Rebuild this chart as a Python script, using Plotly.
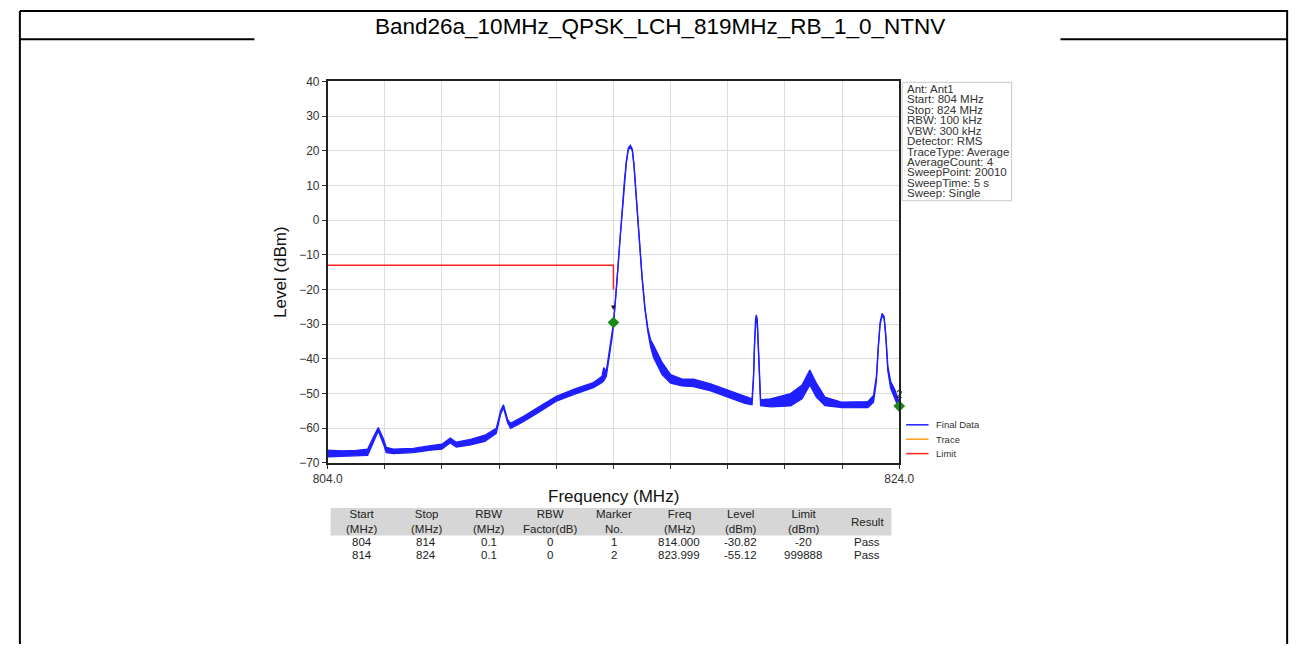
import numpy as np
import plotly.graph_objects as go

# ---------------- data ----------------
title_text = "Band26a_10MHz_QPSK_LCH_819MHz_RB_1_0_NTNV"

freq_mhz = [804.0, 804.5, 805.0, 805.4, 805.6, 805.77, 805.95, 806.05, 806.3, 807.0,
            807.6, 808.0, 808.29, 808.5, 809.0, 809.5, 809.9, 810.05, 810.15, 810.3,
            810.4, 810.8, 811.35, 812.0, 812.7, 813.3, 813.6, 813.66, 813.75, 813.85, 813.95, 814.0,
            814.08, 814.15, 814.22, 814.3, 814.38, 814.45, 814.52, 814.59, 814.66, 814.72,
            814.78, 814.85, 814.92, 815.0, 815.1, 815.2, 815.3, 815.4, 815.7, 816.0,
            816.4, 816.8, 817.4, 818.1, 818.6, 818.85, 818.9, 818.94, 818.97, 819.0,
            819.03, 819.06, 819.1, 819.15, 819.5, 820.2, 820.6, 820.87, 821.1, 821.4,
            822.0, 822.9, 823.1, 823.2, 823.27, 823.33, 823.4, 823.47, 823.53, 823.6,
            823.7, 823.85, 824.0]
level_upper = [-66.3, -66.5, -66.4, -66.0, -62.5, -59.8, -63.0, -65.5, -66.0, -65.8,
               -65.0, -64.6, -62.8, -64.0, -63.2, -62.0, -60.0, -55.0, -53.2, -57.5,
               -58.6, -56.8, -54.0, -50.8, -48.5, -46.8, -45.0, -42.5, -43.5, -38.5, -33.0, -29.7,
               -22.0, -14.0, -6.0, 3.0, 11.0, 17.0, 20.8, 21.6, 20.5, 16.0,
               9.0, 0.0, -8.0, -16.0, -25.0, -31.0, -34.5, -36.0, -41.0, -44.5,
               -45.8, -45.8, -47.2, -49.2, -50.8, -51.5, -45.0, -34.0, -28.5, -27.3,
               -28.5, -34.0, -45.0, -51.8, -51.5, -50.0, -47.5, -43.2, -47.0, -51.0,
               -52.5, -52.3, -50.5, -45.0, -36.0, -29.5, -26.9, -27.8, -33.0, -42.0,
               -46.5, -49.0, -52.5]
level_lower = [-68.2, -68.0, -67.9, -67.8, -64.0, -60.8, -64.5, -67.0, -67.3, -67.0,
               -66.3, -66.0, -64.2, -65.4, -64.8, -63.8, -61.5, -56.0, -54.0, -58.5,
               -60.0, -58.3, -55.6, -52.2, -50.0, -48.3, -46.8, -46.3, -45.0, -40.0, -34.0, -30.3,
               -22.6, -14.6, -6.6, 2.4, 10.4, 16.4, 20.3, 21.0, 20.0, 15.4,
               8.4, -0.6, -8.6, -16.6, -25.6, -32.0, -36.5, -39.5, -44.5, -47.0,
               -47.8, -48.0, -49.2, -51.2, -52.8, -53.2, -45.8, -34.6, -29.0, -27.9,
               -29.0, -34.6, -45.8, -53.5, -53.8, -53.5, -51.5, -47.5, -51.0, -53.5,
               -54.0, -54.0, -52.5, -46.5, -36.6, -30.1, -27.5, -28.4, -33.8, -43.5,
               -48.5, -51.5, -54.5]

limit_freq = [804.0, 814.0, 814.0]
limit_level = [-13.0, -13.0, -20.0]

marker_freq = [814.0, 824.0]
marker_level = [-29.5, -53.6]
marker_label_level = [-25.2, -50.5]
marker_names = ["1", "2"]

info_lines = ["Ant: Ant1", "Start: 804 MHz", "Stop: 824 MHz", "RBW: 100 kHz", "VBW: 300 kHz",
              "Detector: RMS", "TraceType: Average", "AverageCount: 4", "SweepPoint: 20010",
              "SweepTime: 5 s", "Sweep: Single"]

legend_names = ["Final Data", "Trace", "Limit"]
legend_colors = ["#1f1fff", "#ff9f1a", "#ff2020"]

x_ticks = [804, 806, 808, 810, 812, 814, 816, 818, 820, 822, 824]
x_ticktext = ["804.0", "", "", "", "", "", "", "", "", "", "824.0"]
y_ticks = [40, 30, 20, 10, 0, -10, -20, -30, -40, -50, -60, -70]

table_header = ["Start<br>(MHz)", "Stop<br>(MHz)", "RBW<br>(MHz)", "RBW<br>Factor(dB)",
                "Marker<br>No.", "Freq<br>(MHz)", "Level<br>(dBm)", "Limit<br>(dBm)", "Result"]
table_row1 = ["804", "814", "0.1", "0", "1", "814.000", "-30.82", "-20", "Pass"]
table_row2 = ["814", "824", "0.1", "0", "2", "823.999", "-55.12", "999888", "Pass"]

# ---------------- layout geometry (pixels) ----------------
W, H = 1308, 651
PX0, PX1 = 320, 905
PY0, PY1 = 76, 466


def px(x):
    return x / W


def py(y):
    return 1 - y / H


FONT = "Liberation Sans, Arial, sans-serif"
BLUE = legend_colors[0]

fig = go.Figure()

# noise band of the spectrum
fig.add_trace(go.Scatter(x=freq_mhz, y=level_lower, mode="lines",
                         line=dict(color=BLUE, width=1.3), showlegend=False,
                         hoverinfo="skip"))
fig.add_trace(go.Scatter(x=freq_mhz, y=level_upper, mode="lines", fill="tonexty",
                         fillcolor=BLUE, line=dict(color=BLUE, width=1.3),
                         name=legend_names[0], showlegend=False))
# limit line
fig.add_trace(go.Scatter(x=limit_freq, y=limit_level, mode="lines",
                         line=dict(color=legend_colors[2], width=1.5),
                         name=legend_names[2], showlegend=False))
# markers
fig.add_trace(go.Scatter(x=marker_freq, y=marker_level, mode="markers",
                         marker=dict(symbol="diamond", size=9, color="#1a8a1a"),
                         showlegend=False, cliponaxis=False))
fig.add_trace(go.Scatter(x=[marker_freq[0]], y=[marker_label_level[0]], mode="text",
                         text=["▾"], textfont=dict(size=9, color="#111"),
                         showlegend=False, cliponaxis=False))
fig.add_trace(go.Scatter(x=[marker_freq[1]], y=[marker_label_level[1]], mode="text",
                         text=[marker_names[1]], textposition="middle center",
                         textfont=dict(size=11, color="#111", family=FONT),
                         showlegend=False, cliponaxis=False))

shapes = []
annotations = []

# page frame
frame = dict(type="line", xref="paper", yref="paper", line=dict(color="black", width=2))
shapes.append({**frame, "x0": px(5), "x1": px(1303), "y0": py(4), "y1": py(4)})
shapes.append({**frame, "x0": px(5), "x1": px(5), "y0": py(4), "y1": py(651)})
shapes.append({**frame, "x0": px(1302), "x1": px(1302), "y0": py(4), "y1": py(651)})
shapes.append({**frame, "x0": px(5), "x1": px(245), "y0": py(33), "y1": py(33)})
shapes.append({**frame, "x0": px(1070), "x1": px(1302), "y0": py(33), "y1": py(33)})

annotations.append(dict(text=title_text, x=px(660), y=py(20), xref="paper", yref="paper",
                        showarrow=False, xanchor="center", yanchor="middle",
                        font=dict(family=FONT, size=22.5, color="black")))

# info box
shapes.append(dict(type="rect", xref="paper", yref="paper", x0=px(908), x1=px(1020),
                   y0=py(77), y1=py(198), line=dict(color="#c8c8c8", width=1),
                   fillcolor="white"))
for i, t in enumerate(info_lines):
    annotations.append(dict(text=t, x=px(911), y=py(83.5 + i * 10.7), xref="paper",
                            yref="paper", showarrow=False, xanchor="left",
                            yanchor="middle",
                            font=dict(family=FONT, size=11.5, color="#333")))

# legend
for i, (n, c) in enumerate(zip(legend_names, legend_colors)):
    yy = 427 + i * 14.7
    shapes.append(dict(type="line", xref="paper", yref="paper", x0=px(912), x1=px(935),
                       y0=py(yy), y1=py(yy), line=dict(color=c, width=1.5)))
    annotations.append(dict(text=n, x=px(941), y=py(yy), xref="paper", yref="paper",
                            showarrow=False, xanchor="left", yanchor="middle",
                            font=dict(family=FONT, size=9.5, color="#333")))

# table
col_x = [355, 421, 485, 548, 613, 680, 743, 807, 872]
shapes.append(dict(type="rect", xref="paper", yref="paper", x0=px(323), x1=px(897),
                   y0=py(512), y1=py(540), line=dict(width=0), fillcolor="#d6d6d6",
                   layer="below"))
for cx, h, r1, r2 in zip(col_x, table_header, table_row1, table_row2):
    annotations.append(dict(text=h, x=px(cx), y=py(526), xref="paper", yref="paper",
                            showarrow=False, xanchor="center", yanchor="middle",
                            font=dict(family=FONT, size=11.5, color="#222")))
    annotations.append(dict(text=r1, x=px(cx), y=py(547), xref="paper", yref="paper",
                            showarrow=False, xanchor="center", yanchor="middle",
                            font=dict(family=FONT, size=11.5, color="#222")))
    annotations.append(dict(text=r2, x=px(cx), y=py(560), xref="paper", yref="paper",
                            showarrow=False, xanchor="center", yanchor="middle",
                            font=dict(family=FONT, size=11.5, color="#222")))

# x axis title placed just above the table
annotations.append(dict(text="Frequency (MHz)", x=px((PX0 + PX1) / 2), y=py(500),
                        xref="paper", yref="paper", showarrow=False, xanchor="center",
                        yanchor="middle", font=dict(family=FONT, size=17, color="#111")))

fig.update_layout(
    width=W, height=H,
    margin=dict(l=0, r=0, t=0, b=0),
    paper_bgcolor="white", plot_bgcolor="white",
    showlegend=False,
    shapes=shapes, annotations=annotations,
    xaxis=dict(domain=[px(PX0), px(PX1)], range=[804, 824], tickmode="array",
               tickvals=x_ticks, ticktext=x_ticktext, ticks="outside", ticklen=4,
               tickcolor="#333", showgrid=True, gridcolor="#dcdcdc", gridwidth=1,
               showline=True, linecolor="#222", linewidth=1.5, mirror=True,
               zeroline=False, tickfont=dict(family=FONT, size=12, color="#333")),
    yaxis=dict(domain=[py(PY1), py(PY0)], range=[-70, 40], tickmode="array",
               tickvals=y_ticks, ticks="outside", ticklen=4, tickcolor="#333",
               showgrid=True, gridcolor="#dcdcdc", gridwidth=1,
               showline=True, linecolor="#222", linewidth=1.5, mirror=True,
               zeroline=False, tickfont=dict(family=FONT, size=12, color="#333"),
               title=dict(text="Level (dBm)", standoff=8,
                          font=dict(family=FONT, size=17, color="#111"))),
)

fig.write_html("out.html", config={"displayModeBar": False},
               post_script="document.body.style.margin='0px';"
                           "document.body.style.overflow='hidden';")
